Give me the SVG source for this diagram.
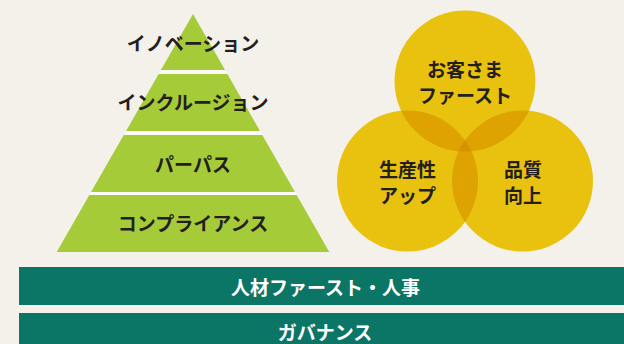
<svg xmlns="http://www.w3.org/2000/svg" width="624" height="344" viewBox="0 0 624 344">
  <style>
    .lbl { font-family: "Noto Sans CJK JP", "Noto Sans", sans-serif; font-weight: 700; font-size: 19px; fill: #231f20; text-anchor: middle; dominant-baseline: central; }
    .wlbl { font-family: "Noto Sans CJK JP", "Noto Sans", sans-serif; font-weight: 700; font-size: 19px; fill: #ffffff; text-anchor: middle; dominant-baseline: central; }
    .layer { fill: #a5cb39; }
    .circ { fill: #e8c20e; }
    .pair { fill: #dea300; }
    .triple { fill: #d59300; }
    .bar { fill: #0b7566; }
  </style>
  <defs>
    <clipPath id="cTop"><circle cx="465" cy="81" r="70.5"/></clipPath>
    <clipPath id="cLeft"><circle cx="407.5" cy="181" r="70.5"/></clipPath>
    <clipPath id="cRight"><circle cx="522.5" cy="181" r="70.5"/></clipPath>
  </defs>
  <rect width="624" height="344" fill="#f4f1eb"/>

  <!-- pyramid backdrop (gap colour) -->
  <polygon points="193,14 329.3,252 56.7,252" fill="#fbfaf7"/>

  <g id="layer-innovation">
    <polygon class="layer" points="193,14 225.1,70 160.9,70"/>
    <text class="lbl" x="193" y="42.5">イノベーション</text>
  </g>
  <g id="layer-inclusion">
    <polygon class="layer" points="158.6,74 227.4,74 260,131 126,131"/>
    <text class="lbl" x="193" y="101.7">インクルージョン</text>
  </g>
  <g id="layer-purpose">
    <polygon class="layer" points="123.7,135 262.3,135 295,192 91,192"/>
    <text class="lbl" x="193" y="163">パーパス</text>
  </g>
  <g id="layer-compliance">
    <polygon class="layer" points="89.3,195 296.7,195 329.3,252 56.7,252"/>
    <text class="lbl" x="193" y="222.7">コンプライアンス</text>
  </g>

  <!-- Venn circles -->
  <g id="venn-shapes">
    <circle class="circ" cx="465" cy="81" r="70.5"/>
    <circle class="circ" cx="407.5" cy="181" r="70.5"/>
    <circle class="circ" cx="522.5" cy="181" r="70.5"/>
    <circle class="pair" cx="465" cy="81" r="70.5" clip-path="url(#cLeft)"/>
    <circle class="pair" cx="465" cy="81" r="70.5" clip-path="url(#cRight)"/>
    <circle class="pair" cx="407.5" cy="181" r="70.5" clip-path="url(#cRight)"/>
    <g clip-path="url(#cRight)">
      <circle class="triple" cx="465" cy="81" r="70.5" clip-path="url(#cLeft)"/>
    </g>
  </g>
  <g id="circle-customer">
    <text class="lbl" x="465" y="68">お客さま</text>
    <text class="lbl" x="465" y="94">ファースト</text>
  </g>
  <g id="circle-productivity">
    <text class="lbl" x="407.5" y="168.3">生産性</text>
    <text class="lbl" x="407.5" y="194.5">アップ</text>
  </g>
  <g id="circle-quality">
    <text class="lbl" x="523" y="168.3">品質</text>
    <text class="lbl" x="523" y="194.5">向上</text>
  </g>

  <!-- foundation bars -->
  <g id="bar-hr">
    <rect class="bar" x="19" y="267" width="605" height="38"/>
    <text class="wlbl" x="325.5" y="286.5">人材ファースト・人事</text>
  </g>
  <g id="bar-governance">
    <rect class="bar" x="19" y="313" width="605" height="31"/>
    <text class="wlbl" x="325" y="331">ガバナンス</text>
  </g>

  <g id="connectors"></g>
</svg>
